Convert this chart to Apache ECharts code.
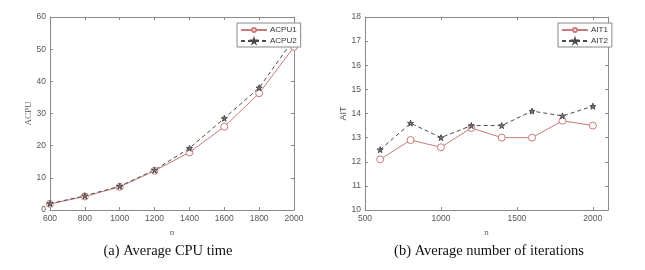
<!DOCTYPE html>
<html><head><meta charset="utf-8">
<script src="https://cdn.jsdelivr.net/npm/echarts@6/dist/echarts.min.js"></script>
<style>html,body{margin:0;padding:0;background:#fff}#c{width:645px;height:270px}</style>
</head><body><div id="c"></div>
<script>
var nValues = [600, 800, 1000, 1200, 1400, 1600, 1800, 2000];
var acpu1 = [1.9, 4.2, 7.2, 12.2, 17.9, 25.9, 36.3, 50.7];
var acpu2 = [2.0, 4.4, 7.4, 12.4, 19.2, 28.5, 38.0, 53.2];
var ait1 = [12.1, 12.9, 12.6, 13.4, 13.0, 13.0, 13.7, 13.5];
var ait2 = [12.5, 13.6, 13.0, 13.5, 13.5, 14.1, 13.9, 14.3];
var captionA = '(a) Average CPU time';
var captionB = '(b) Average number of iterations';

var STAR = 'path://M50,0 L61,35 L98,35 L68,57 L79,91 L50,70 L21,91 L32,57 L2,35 L39,35 Z';
var RED = '#c97a7a', GRAY = '#4a4a4a', AX = '#8a8a8a', LBL = '#555';
function pairs(xs, ys){ return xs.map(function(x,i){return [x, ys[i]];}); }
function plain(v){ return String(v); }

function xAx(grid, min, max, interval, pos, show){
  return {type:'value', gridIndex:grid, min:min, max:max, interval:interval, position:pos,
    name: show ? 'n' : '', nameLocation:'middle', nameGap:17,
    nameTextStyle:{fontFamily:'Liberation Serif', fontSize:9, color:'#666'},
    axisLine:{show:true, onZero:false, lineStyle:{color:AX, width:1}},
    axisTick:{show:true, inside:true, length:3, lineStyle:{color:AX}},
    axisLabel:{show:show, fontFamily:'Liberation Sans', fontSize:8.5, color:LBL, margin:4, formatter:plain, showMaxLabel: max % interval === 0},
    splitLine:{show:false}};
}
function yAx(grid, min, max, interval, pos, name, font){
  return {type:'value', gridIndex:grid, min:min, max:max, interval:interval, position:pos,
    name:name, nameLocation:'middle', nameGap:15, nameRotate:90,
    nameTextStyle:{fontFamily:font, fontSize:9, color:'#555'},
    axisLine:{show:true, onZero:false, lineStyle:{color:AX, width:1}},
    axisTick:{show:true, inside:true, length:3, lineStyle:{color:AX}},
    axisLabel:{show:!!name, fontFamily:'Liberation Sans', fontSize:8.5, color:LBL, margin:4, formatter:plain},
    splitLine:{show:false}};
}
function ser(name, x, y, data, color, dashed, symbol){
  return {type:'line', name:name, xAxisIndex:x, yAxisIndex:y, data:data,
    symbol:symbol, symbolSize: symbol==='circle'?7:6, showSymbol:true,
    itemStyle:{color: symbol==='circle' ? '#fff' : '#777', borderColor:color, borderWidth:1},
    lineStyle:{color:color, width:1, type: dashed ? [4,3] : 'solid'},
    emphasis:{disabled:true}, animation:false};
}
function legend(names, left){
  return {data:names, orient:'vertical', left:left, top:23, itemGap:3, itemWidth:26, itemHeight:5,
     padding:[3,4,2,3], borderColor:'#888', borderWidth:1, backgroundColor:'#fff',
     textStyle:{fontFamily:'Liberation Sans', fontSize:8, color:'#333', padding:[0,0,0,-2]}};
}

var chart = echarts.init(document.getElementById('c'), null, {renderer:'canvas'});
chart.setOption({
  backgroundColor:'#fff',
  animation:false,
  title:[
    {text:captionA, left:163, top:239, textAlign:'center', textStyle:{fontFamily:'Liberation Serif', fontSize:14.5, fontWeight:'normal', color:'#111'}},
    {text:captionB, left:484, top:239, textAlign:'center', textStyle:{fontFamily:'Liberation Serif', fontSize:14.5, fontWeight:'normal', color:'#111'}}
  ],
  grid:[
    {left:50, right:351, top:17, bottom:60},
    {left:365, right:37, top:17, bottom:60}
  ],
  xAxis:[
    xAx(0, 600, 2000, 200, 'bottom', true),
    xAx(0, 600, 2000, 200, 'top', false),
    xAx(1, 500, 2100, 500, 'bottom', true),
    xAx(1, 500, 2100, 500, 'top', false)
  ],
  yAxis:[
    yAx(0, 0, 60, 10, 'left', 'ACPU', 'Liberation Serif'),
    yAx(0, 0, 60, 10, 'right', '', 'Liberation Sans'),
    yAx(1, 10, 18, 1, 'left', 'AIT', 'Liberation Sans'),
    yAx(1, 10, 18, 1, 'right', '', 'Liberation Sans')
  ],
  legend:[ legend(['ACPU1','ACPU2'], 237), legend(['AIT1','AIT2'], 558) ],
  series:[
    ser('ACPU1', 0, 0, pairs(nValues, acpu1), RED, false, 'circle'),
    ser('ACPU2', 0, 0, pairs(nValues, acpu2), GRAY, true, STAR),
    ser('AIT1', 2, 2, pairs(nValues, ait1), RED, false, 'circle'),
    ser('AIT2', 2, 2, pairs(nValues, ait2), GRAY, true, STAR)
  ]
});
</script></body></html>
